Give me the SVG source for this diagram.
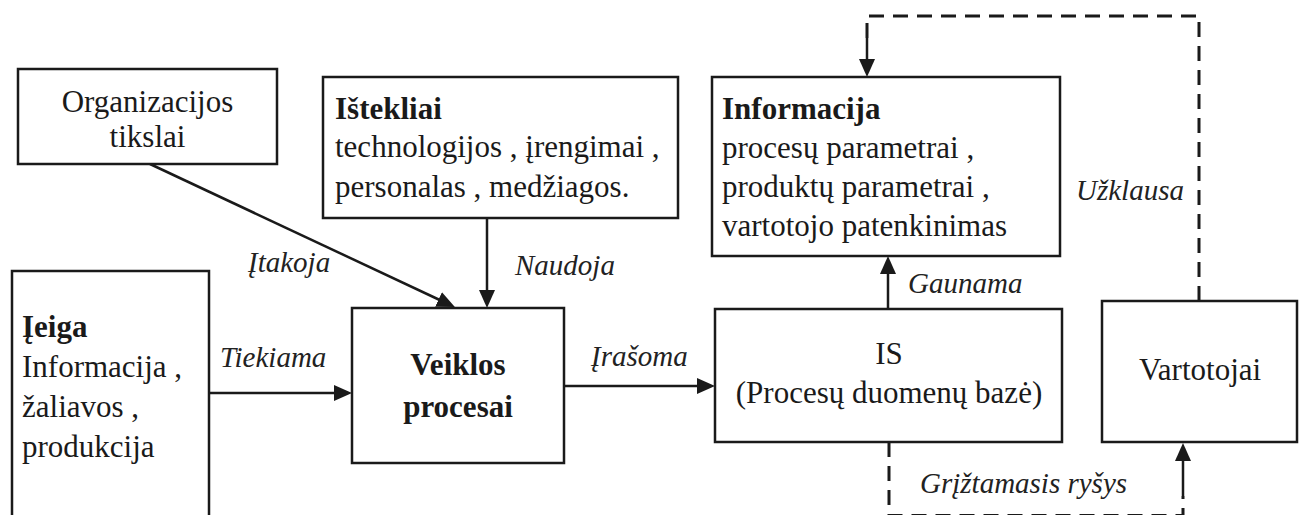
<svg xmlns="http://www.w3.org/2000/svg" width="1302" height="515" viewBox="0 0 1302 515">
<style>
.box{fill:#fff;stroke:#1a1a1a;stroke-width:2.5}
.t{font-family:"Liberation Serif","Times New Roman",serif;font-size:31px;fill:#1a1a1a}
.b{font-weight:bold}
.m{text-anchor:middle}
.lbl{font-family:"Liberation Serif","Times New Roman",serif;font-size:29px;font-style:italic;fill:#222}
.ln{fill:none;stroke:#1a1a1a;stroke-width:2.5}
.ds{fill:none;stroke:#1a1a1a;stroke-width:3;stroke-dasharray:15 9}
</style>
<defs>
<marker id="ah" markerUnits="userSpaceOnUse" markerWidth="18" markerHeight="16" refX="6" refY="8" orient="auto">
<path d="M0,0 L18,8 L0,16 z" fill="#1a1a1a"/>
</marker>
</defs>
<rect width="1302" height="515" fill="#fff"/>
<g id="connectors">
<path class="ln" d="M150,164 L444,302" marker-end="url(#ah)"/>
<path class="ln" d="M487,218 L487,296" marker-end="url(#ah)"/>
<path class="ln" d="M209,393 L340,393" marker-end="url(#ah)"/>
<path class="ln" d="M564,386 L703,386" marker-end="url(#ah)"/>
<path class="ln" d="M888,309 L888,268" marker-end="url(#ah)"/>
<path class="ds" d="M1199,301 L1199,16 L867,16 L867,40"/>
<path class="ln" d="M867,38 L867,65" marker-end="url(#ah)"/>
<path class="ds" d="M889,442 L889,515.5 L1183,515.5 L1183,496"/>
<path class="ln" d="M1183,496 L1183,455" marker-end="url(#ah)"/>
<text class="lbl" x="248" y="272">Įtakoja</text>
<text class="lbl" x="515" y="275">Naudoja</text>
<text class="lbl" x="220" y="367">Tiekiama</text>
<text class="lbl" x="591" y="366">Įrašoma</text>
<text class="lbl" x="908" y="293">Gaunama</text>
<text class="lbl" x="1076" y="200">Užklausa</text>
<text class="lbl" x="920" y="493">Grįžtamasis ryšys</text>
</g>
<g id="org">
<rect class="box" x="18" y="69" width="259" height="95"/>
<text class="t m" x="147.5" y="112">Organizacijos</text>
<text class="t m" x="147.5" y="147">tikslai</text>
</g>
<g id="istekliai">
<rect class="box" x="323" y="77" width="355" height="141"/>
<text class="t b" x="335" y="119">Ištekliai</text>
<text class="t" x="335" y="157">technologijos , įrengimai ,</text>
<text class="t" x="335" y="197">personalas , medžiagos.</text>
</g>
<g id="informacija">
<rect class="box" x="712" y="77" width="348" height="179"/>
<text class="t b" x="722" y="119">Informacija</text>
<text class="t" x="722" y="158">procesų parametrai ,</text>
<text class="t" x="722" y="197">produktų parametrai ,</text>
<text class="t" x="722" y="236">vartotojo patenkinimas</text>
</g>
<g id="ieiga">
<rect class="box" x="12" y="271" width="197" height="260"/>
<text class="t b" x="22" y="337">Įeiga</text>
<text class="t" x="22" y="377">Informacija ,</text>
<text class="t" x="22" y="417">žaliavos ,</text>
<text class="t" x="22" y="457">produkcija</text>
</g>
<g id="veiklos">
<rect class="box" x="352" y="308" width="212" height="155"/>
<text class="t b m" x="458" y="375">Veiklos</text>
<text class="t b m" x="458" y="417">procesai</text>
</g>
<g id="is">
<rect class="box" x="715" y="309" width="347" height="133"/>
<text class="t m" x="889" y="364">IS</text>
<text class="t m" x="889" y="403">(Procesų duomenų bazė)</text>
</g>
<g id="vartotojai">
<rect class="box" x="1102" y="301" width="195" height="141"/>
<text class="t m" x="1200" y="380">Vartotojai</text>
</g>
</svg>
